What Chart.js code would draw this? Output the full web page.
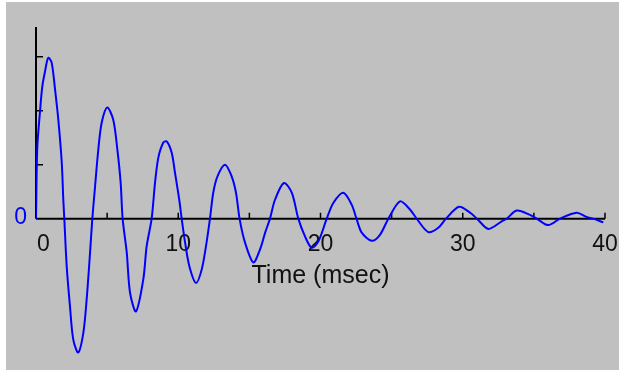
<!DOCTYPE html>
<html>
<head>
<meta charset="utf-8">
<script src="https://cdn.jsdelivr.net/npm/chart.js@4.4.1/dist/chart.umd.min.js"></script>
<style>
  html, body { margin: 0; padding: 0; background: #ffffff; }
  #wrap { position: absolute; left: 6px; top: 2px; width: 613px; height: 368px; background: #c0c0c0; }
  canvas { display: block; }
</style>
</head>
<body>
<div id="wrap"><canvas id="chart" width="613" height="368"></canvas></div>
<script>
// time axis (msec) and the damped signal (1 unit = one y tick)
const timeMs = [
  0.00, 0.09, 0.28, 0.44, 0.63, 0.86, 1.10, 1.34, 1.57, 1.81, 1.92, 1.99,
  2.16, 2.39, 2.62, 2.97, 3.33, 3.56, 3.80, 3.96, 4.15, 4.38, 4.62, 5.01,
  5.43, 5.72, 5.95, 6.09, 6.38, 6.61, 7.03, 7.54, 7.78, 8.13, 8.37, 8.60,
  8.95, 9.19, 9.54, 9.77, 10.07, 10.24, 10.48, 10.78, 11.25, 11.65, 11.95, 12.23,
  12.46, 12.75, 13.29, 13.76, 14.06, 14.31, 14.69, 15.28, 15.75, 16.12, 16.45, 16.80,
  17.43, 17.98, 18.44, 18.91, 19.38, 19.85, 20.44, 20.90, 21.60, 22.19, 22.53, 22.90,
  23.60, 24.18, 24.77, 25.59, 26.29, 26.76, 27.58, 28.28, 28.82, 29.74, 30.51, 31.00,
  31.80, 32.74, 33.09, 33.79, 34.73, 35.20, 36.01, 36.84, 38.01, 38.71, 39.18, 39.88
];
const signal = [
  0.00, 1.31, 1.98, 2.44, 2.72, 2.98, 2.89, 2.39, 1.83, 1.04, 0.35, 0.00,
  -0.89, -1.63, -2.24, -2.48, -2.11, -1.50, -0.63, 0.00, 0.59, 1.28, 1.78, 2.06,
  1.83, 1.28, 0.67, 0.00, -0.63, -1.37, -1.72, -1.13, -0.51, 0.00, 0.67, 1.13,
  1.41, 1.43, 1.22, 0.85, 0.35, 0.00, -0.44, -0.88, -1.19, -0.94, -0.51, 0.00,
  0.48, 0.78, 1.00, 0.78, 0.48, 0.00, -0.44, -0.81, -0.57, -0.25, 0.00, 0.35,
  0.66, 0.48, 0.00, -0.33, -0.54, -0.42, 0.00, 0.29, 0.48, 0.26, 0.00, -0.26,
  -0.41, -0.30, 0.00, 0.32, 0.17, 0.00, -0.25, -0.17, 0.00, 0.22, 0.11, 0.00,
  -0.19, -0.05, 0.00, 0.15, 0.07, 0.00, -0.12, 0.00, 0.11, 0.03, 0.00, -0.07
];
const xTickMarks = [5, 10, 15, 20, 25, 30, 35, 40];
const xTickLabels = ['0', '10', '20', '30', '40'];
const yTickMarks = [1, 2, 3];
const yAxisTop = 3.55;
const xTitle = 'Time (msec)';

const points = timeMs.map((t, i) => ({ x: t, y: signal[i] }));

// old-style axes: a cross at zero with small inward ticks
const scopeAxes = {
  id: 'scopeAxes',
  beforeDatasetsDraw(chart) {
    const ctx = chart.ctx;
    const xs = chart.scales.x;
    const ys = chart.scales.y;
    const x0 = xs.getPixelForValue(0);
    const y0 = ys.getPixelForValue(0);

    ctx.save();
    ctx.strokeStyle = '#000000';
    ctx.lineWidth = 2;
    ctx.beginPath();
    ctx.moveTo(x0, ys.getPixelForValue(yAxisTop));
    ctx.lineTo(x0, y0);
    ctx.moveTo(x0, y0);
    ctx.lineTo(xs.getPixelForValue(40), y0);
    ctx.stroke();

    ctx.lineWidth = 1.5;
    ctx.beginPath();
    yTickMarks.forEach(v => {
      const y = ys.getPixelForValue(v);
      ctx.moveTo(x0, y);
      ctx.lineTo(x0 + 7, y);
    });
    xTickMarks.forEach(v => {
      const x = xs.getPixelForValue(v);
      ctx.moveTo(x, y0);
      ctx.lineTo(x, y0 - 6);
    });
    ctx.stroke();

    // tick labels (the first one sits right of the axis)
    ctx.font = '23px "Liberation Sans", Arial, sans-serif';
    ctx.fillStyle = '#111111';
    ctx.textBaseline = 'middle';
    xTickLabels.forEach(lbl => {
      const v = Number(lbl);
      if (v === 0) {
        ctx.textAlign = 'left';
        ctx.fillText(lbl, x0 + 1, y0 + 26);
      } else {
        ctx.textAlign = 'center';
        ctx.fillText(lbl, xs.getPixelForValue(v), y0 + 26);
      }
    });

    ctx.fillStyle = '#0000ff';
    ctx.textAlign = 'right';
    ctx.fillText('0', x0 - 9, y0 - 1);

    ctx.fillStyle = '#111111';
    ctx.textAlign = 'center';
    ctx.font = '25px "Liberation Sans", Arial, sans-serif';
    ctx.fillText(xTitle, xs.getPixelForValue(20), y0 + 57);
    ctx.restore();
  }
};

new Chart(document.getElementById('chart'), {
  type: 'line',
  data: {
    datasets: [{
      data: points,
      borderColor: '#0000ff',
      borderWidth: 2,
      pointRadius: 0,
      fill: false,
      tension: 0.3
    }]
  },
  options: {
    responsive: false,
    devicePixelRatio: 1,
    animation: false,
    layout: { padding: { left: 30, right: 14, top: 25, bottom: 11 } },
    plugins: { legend: { display: false }, tooltip: { enabled: false } },
    scales: {
      x: { type: 'linear', min: 0, max: 40, display: false },
      y: { type: 'linear', min: -2.6, max: 3.55, display: false }
    }
  },
  plugins: [scopeAxes]
});
</script>
</body>
</html>
